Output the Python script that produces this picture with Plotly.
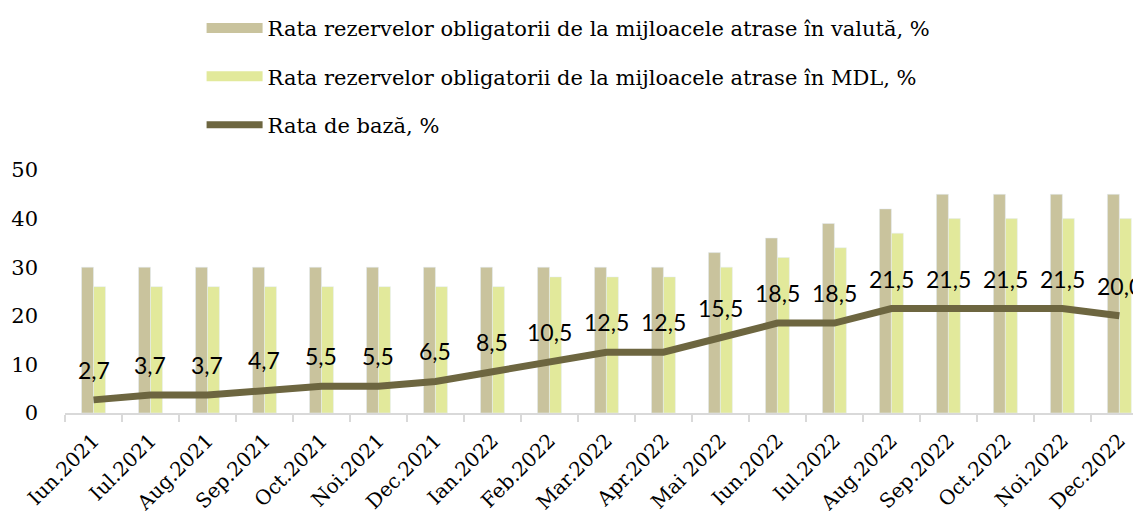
import plotly.graph_objects as go

luni = ["Iun.2021", "Iul.2021", "Aug.2021", "Sep.2021", "Oct.2021", "Noi.2021",
        "Dec.2021", "Ian.2022", "Feb.2022", "Mar.2022", "Apr.2022", "Mai 2022",
        "Iun.2022", "Iul.2022", "Aug.2022", "Sep.2022", "Oct.2022", "Noi.2022",
        "Dec.2022"]
rro_valuta = [30, 30, 30, 30, 30, 30, 30, 30, 30, 30, 30, 33, 36, 39, 42, 45, 45, 45, 45]
rro_mdl = [26, 26, 26, 26, 26, 26, 26, 26, 28, 28, 28, 30, 32, 34, 37, 40, 40, 40, 40]
rata_baza = [2.7, 3.7, 3.7, 4.7, 5.5, 5.5, 6.5, 8.5, 10.5, 12.5, 12.5, 15.5, 18.5,
             18.5, 21.5, 21.5, 21.5, 21.5, 20.0]

nume = ["Rata rezervelor obligatorii de la mijloacele atrase în valută, %",
        "Rata rezervelor obligatorii de la mijloacele atrase în MDL, %",
        "Rata de bază, %"]
culori = ["#c9c39d", "#e2e99b", "#6d6640"]

serif = "DejaVu Serif"

fig = go.Figure()
fig.add_trace(go.Bar(x=luni, y=rro_valuta, name=nume[0], marker_color=culori[0], showlegend=False))
fig.add_trace(go.Bar(x=luni, y=rro_mdl, name=nume[1], marker_color=culori[1], showlegend=False))
fig.add_trace(go.Scatter(x=luni, y=rata_baza, name=nume[2], mode="lines",
                         line=dict(color=culori[2], width=7), showlegend=False))

# legenda: dreptunghiuri late ca in Excel
for i, (n, c) in enumerate(zip(nume, culori)):
    fig.add_trace(go.Scatter(x=[None], y=[None], mode="lines", name=n, legendgroup=str(i),
                             line=dict(color=c, width=16 if i < 2 else 7)))

# etichete deasupra liniei
for l, v in zip(luni, rata_baza):
    fig.add_annotation(x=l, y=v, text=f"{v:.1f}".replace(".", ","), showarrow=False,
                       yshift=30, font=dict(family="Lato", size=23, color="black"))

# pagina html are 8px margine in body -> totul e mutat cu 8px
fig.update_layout(
    width=1141, height=514,
    margin=dict(l=57, r=0, t=162, b=109, autoexpand=False),
    plot_bgcolor="white", paper_bgcolor="white",
    barmode="group", bargap=0.58, bargroupgap=0,
    font=dict(family=serif, size=20, color="black"),
    legend=dict(x=0.126, y=1.667, xanchor="left", yanchor="top", tracegroupgap=18,
                font=dict(family=serif, size=21), itemwidth=56, bgcolor="rgba(0,0,0,0)"),
)
fig.update_xaxes(range=[-0.5, 18.52], tickangle=-45, showline=True, linecolor="#d9d9d9", linewidth=2,
                 ticks="outside", tickson="boundaries", tickcolor="#d9d9d9", ticklen=7, tickwidth=2,
                 showgrid=False, automargin=False, ticklabelstandoff=6,
                 tickfont=dict(family=serif, size=20))
fig.update_yaxes(range=[0, 50], dtick=10, showgrid=False, zeroline=False, showline=False,
                 automargin=False, ticklabelstandoff=26, tickfont=dict(family=serif, size=21))

fig.write_html("out.html")
